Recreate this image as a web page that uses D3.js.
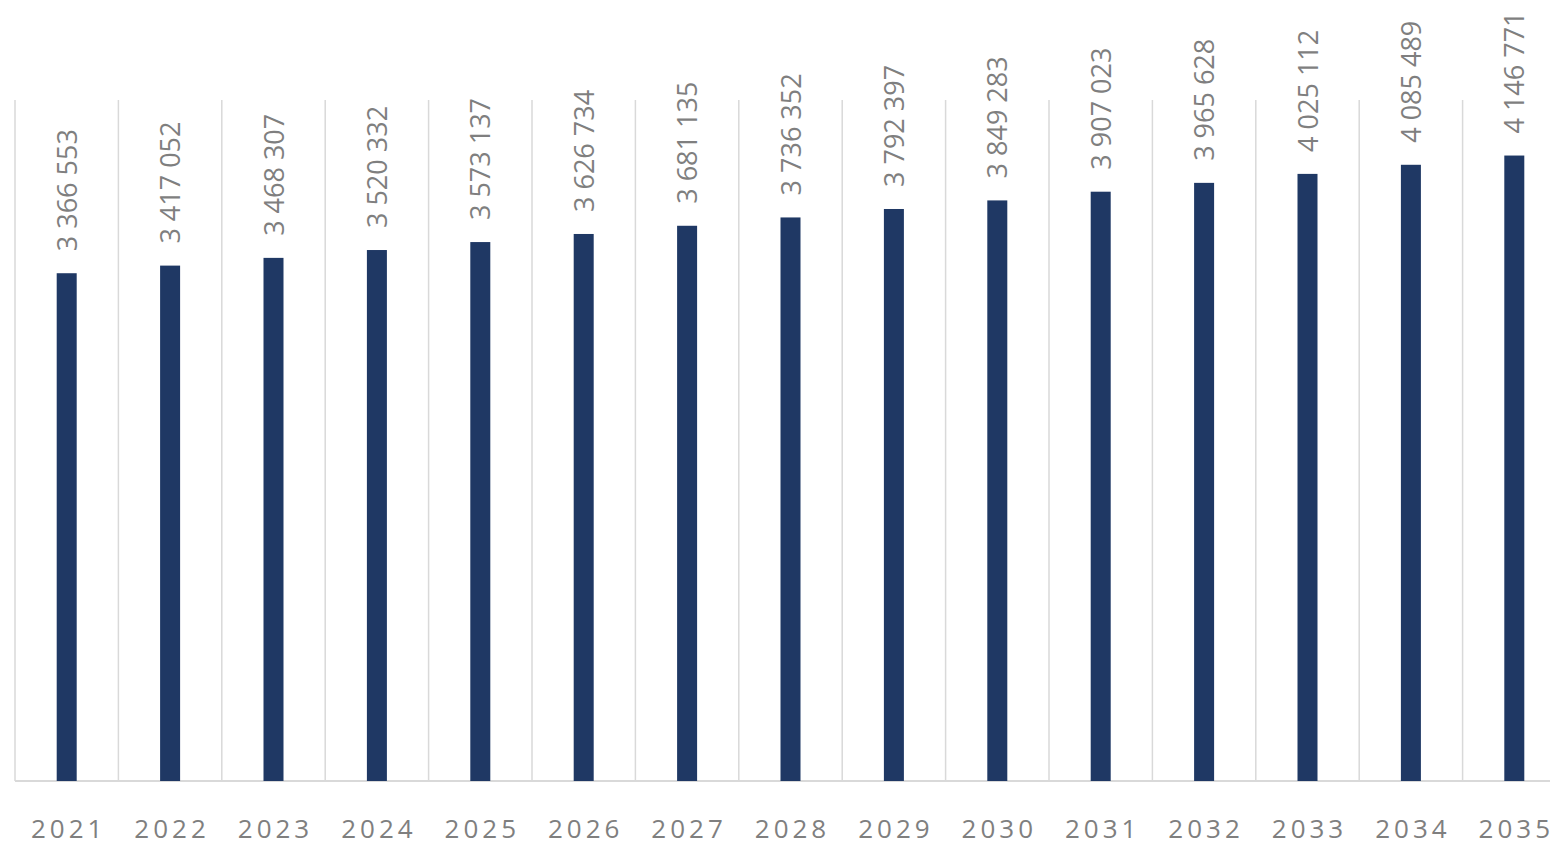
<!DOCTYPE html>
<html lang="en">
<head>
<meta charset="UTF-8">
<script src="https://cdnjs.cloudflare.com/ajax/libs/d3/7.8.5/d3.min.js"></script>
<style>
body { margin: 0; background: #fff; }
.grid line { stroke: #d9d9d9; stroke-width: 1.5; }
.xlab { font-family: "Open Sans", sans-serif; font-size: 26px; fill: #7f7f7f; letter-spacing: 4px; }
.vlab { font-family: "Open Sans", sans-serif; font-size: 27px; fill: #7f7f7f; }
</style>
</head>
<body>
<script>
var years = ["2021","2022","2023","2024","2025","2026","2027","2028","2029","2030","2031","2032","2033","2034","2035"];
var values = [3366553, 3417052, 3468307, 3520332, 3573137, 3626734, 3681135, 3736352, 3792397, 3849283, 3907023, 3965628, 4025112, 4085489, 4146771];

var W = 1550, H = 844;
var plotLeft = 15, plotRight = 1566, plotTop = 100, plotBottom = 781;

var svg = d3.select("body").append("svg")
  .attr("width", W)
  .attr("height", H);

var x = d3.scaleBand()
  .domain(years)
  .range([plotLeft, plotRight])
  .paddingInner(0)
  .paddingOuter(0);

var y = d3.scaleLinear()
  .domain([0, 4515000])
  .range([plotBottom, plotTop]);

var fmt = function(v) { return d3.format(",")(v).replace(/,/g, " "); };

// vertical separators between categories
svg.append("g").attr("class", "grid")
  .selectAll("line")
  .data(years)
  .enter().append("line")
  .attr("x1", d => x(d))
  .attr("x2", d => x(d))
  .attr("y1", plotTop)
  .attr("y2", plotBottom);

// baseline
svg.append("line")
  .attr("x1", plotLeft).attr("x2", W)
  .attr("y1", plotBottom).attr("y2", plotBottom)
  .style("stroke", "#d9d9d9").style("stroke-width", 2);

var bw = 20;
svg.selectAll(".bar")
  .data(values)
  .enter().append("rect")
  .attr("class", "bar")
  .attr("x", (d, i) => x(years[i]) + x.bandwidth() / 2 - bw / 2)
  .attr("width", bw)
  .attr("y", d => y(d))
  .attr("height", d => plotBottom - y(d))
  .style("fill", "#1f3864");

svg.selectAll(".vlab")
  .data(values)
  .enter().append("text")
  .attr("class", "vlab")
  .attr("transform", (d, i) => "translate(" + (x(years[i]) + x.bandwidth() / 2 + 10) + "," + (y(d) - 22) + ") rotate(-90)")
  .text(d => fmt(d));

svg.selectAll(".xlab")
  .data(years)
  .enter().append("text")
  .attr("class", "xlab")
  .attr("x", d => x(d) + x.bandwidth() / 2 + 2)
  .attr("y", 838)
  .attr("text-anchor", "middle")
  .text(d => d);
</script>
</body>
</html>
